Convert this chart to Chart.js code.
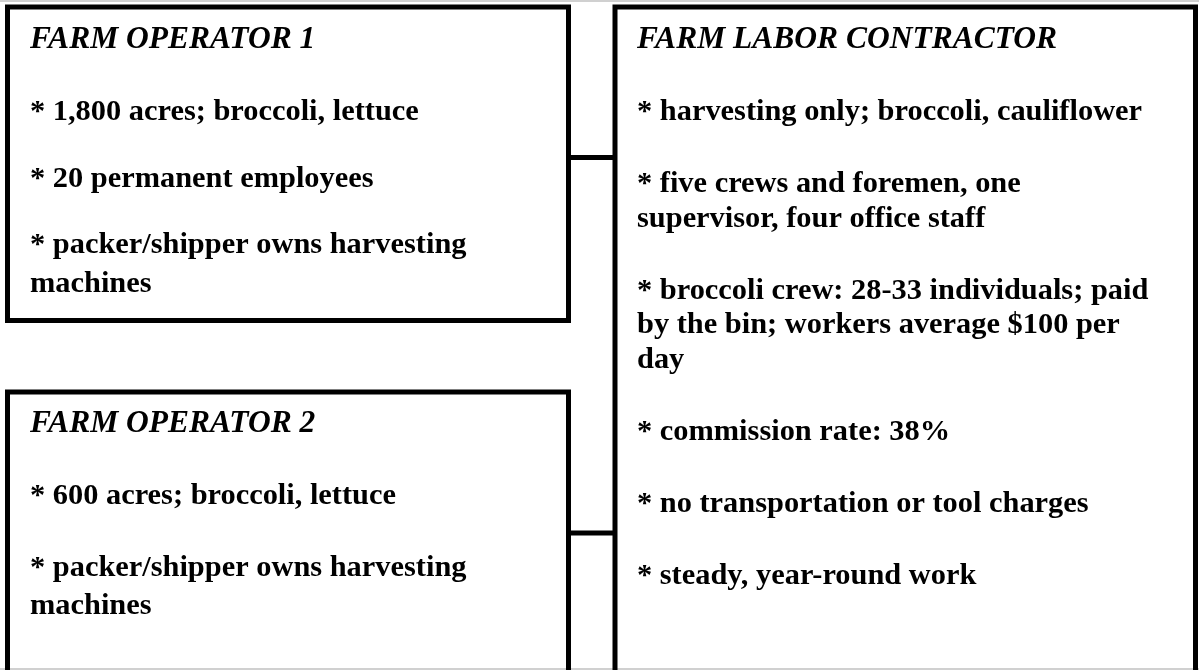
<!DOCTYPE html>
<html>
<head>
<meta charset="utf-8">
<script src="https://cdn.jsdelivr.net/npm/chart.js@4.4.1/dist/chart.umd.min.js"></script>
<style>
  html, body { margin: 0; padding: 0; background: #fff; }
  #wrap { position: relative; width: 1199px; height: 670px; }
</style>
</head>
<body>
<div id="wrap"><canvas id="diagram"></canvas></div>
<script>
// Box texts, one array per box: title, then paragraphs (each a list of wrapped lines)
const boxTitles = ['FARM OPERATOR 1', 'FARM OPERATOR 2', 'FARM LABOR CONTRACTOR'];

const operator1Items = [
    ['* 1,800 acres; broccoli, lettuce'],
    ['* 20 permanent employees'],
    ['* packer/shipper owns harvesting', 'machines']
];

const operator2Items = [
    ['* 600 acres; broccoli, lettuce'],
    ['* packer/shipper owns harvesting', 'machines']
];

const contractorItems = [
    ['* harvesting only; broccoli, cauliflower'],
    ['* five crews and foremen, one', 'supervisor, four office staff'],
    ['* broccoli crew: 28-33 individuals; paid', 'by the bin; workers average $100 per', 'day'],
    ['* commission rate: 38%'],
    ['* no transportation or tool charges'],
    ['* steady, year-round work']
];

const boxItems = [operator1Items, operator2Items, contractorItems];

// Layout, in the chart's own units (x 0..1199, y 0..670 downwards)
const layout = [
    { frame: [7.5, 7, 568.5, 320.5], open: false, textX: 30, title: 48, firstGap: 72, paraGap: 66.5, lineStep: 39 },
    { frame: [7.5, 392, 568.5, 690], open: true, textX: 30, title: 432, firstGap: 72, paraGap: 72, lineStep: 38 },
    { frame: [615, 7, 1195.5, 690], open: true, textX: 637, title: 48, firstGap: 72, paraGap: 72, lineStep: 34.5 }
];
const connectors = [
    [568.5, 615, 157.5],
    [568.5, 615, 533]
];

const FONT = '"Liberation Serif", "Times New Roman", serif';
const TITLE_FONT = 'italic bold 31.5px ' + FONT;
const BODY_FONT = 'bold 30.4px ' + FONT;

function frameDataset(f, open) {
    const [x0, y0, x1, y1] = f;
    const pts = open
        ? [{ x: x0, y: y1 }, { x: x0, y: y0 }, { x: x1, y: y0 }, { x: x1, y: y1 }]
        : [{ x: x0, y: y0 }, { x: x1, y: y0 }, { x: x1, y: y1 }, { x: x0, y: y1 }, { x: x0, y: y0 }, { x: x1, y: y0 }];
    return {
        data: pts, showLine: true, borderColor: '#000', borderWidth: 5,
        pointRadius: 0, tension: 0, borderJoinStyle: 'miter', fill: false
    };
}

const datasets = layout.map(b => frameDataset(b.frame, b.open));
connectors.forEach(([x0, x1, y]) => {
    datasets.push({
        data: [{ x: x0, y }, { x: x1, y }], showLine: true, borderColor: '#000',
        borderWidth: 5, pointRadius: 0, borderCapStyle: 'butt'
    });
});
// faint page edges at top and bottom
[1, 669].forEach(y => {
    datasets.push({
        data: [{ x: 0, y }, { x: 1199, y }], showLine: true, borderColor: '#d0d0d0',
        borderWidth: 2, pointRadius: 0
    });
});

// Draws the box texts at positions taken through the chart scales
const boxTextPlugin = {
    id: 'boxText',
    afterDatasetsDraw(chart) {
        const { ctx, scales } = chart;
        ctx.save();
        ctx.fillStyle = '#000';
        ctx.textBaseline = 'alphabetic';
        ctx.textAlign = 'left';
        layout.forEach((b, i) => {
            const px = scales.x.getPixelForValue(b.textX);
            ctx.font = TITLE_FONT;
            ctx.fillText(boxTitles[i], px, scales.y.getPixelForValue(b.title));
            ctx.font = BODY_FONT;
            let y = b.title + b.firstGap;
            boxItems[i].forEach((para, p) => {
                if (p > 0) y += b.paraGap;
                para.forEach((line, l) => {
                    if (l > 0) y += b.lineStep;
                    ctx.fillText(line, px, scales.y.getPixelForValue(y));
                });
            });
        });
        ctx.restore();
    }
};

new Chart(document.getElementById('diagram'), {
    type: 'scatter',
    data: { datasets },
    plugins: [boxTextPlugin],
    options: {
        responsive: true,
        maintainAspectRatio: false,
        animation: false,
        layout: { padding: 0 },
        scales: {
            x: { type: 'linear', min: 0, max: 1199, display: false },
            y: { type: 'linear', min: 0, max: 670, reverse: true, display: false }
        },
        plugins: {
            legend: { display: false },
            tooltip: { enabled: false }
        }
    }
});
</script>
</body>
</html>
